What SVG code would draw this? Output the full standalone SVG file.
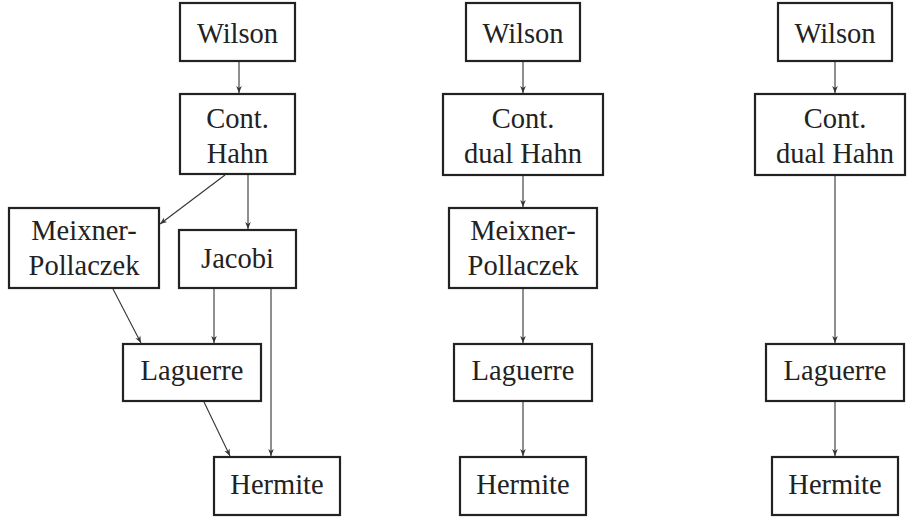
<svg xmlns="http://www.w3.org/2000/svg" width="907" height="519" viewBox="0 0 907 519">
<defs>
<style>
.box{fill:#fff;stroke:#222;stroke-width:2.2}
.e{stroke:#333;stroke-width:1.1;fill:none;marker-end:url(#ah)}
</style>
<marker id="ah" viewBox="0 0 10 10" refX="10" refY="5" markerWidth="7" markerHeight="7" markerUnits="userSpaceOnUse" orient="auto">
<path d="M0,1 L10,5 L0,9 L3,5 Z" fill="#333"/>
</marker>
</defs>
<rect width="907" height="519" fill="#fff"/>
<g id="connectors">
<line class="e" x1="239" y1="62" x2="239" y2="93"/>
<line class="e" x1="225" y1="175" x2="160" y2="224"/>
<line class="e" x1="248" y1="175" x2="248" y2="229"/>
<line class="e" x1="113" y1="289" x2="141" y2="343"/>
<line class="e" x1="214" y1="289" x2="214" y2="343"/>
<line class="e" x1="271" y1="289" x2="271" y2="456"/>
<line class="e" x1="204" y1="402" x2="230" y2="456"/>
<line class="e" x1="523" y1="62" x2="523" y2="93"/>
<line class="e" x1="523" y1="176" x2="523" y2="207"/>
<line class="e" x1="523" y1="289" x2="523" y2="343"/>
<line class="e" x1="523" y1="402" x2="523" y2="456"/>
<line class="e" x1="835" y1="62" x2="835" y2="93"/>
<line class="e" x1="835" y1="176" x2="835" y2="343"/>
<line class="e" x1="835" y1="402" x2="835" y2="456"/>
</g>
<g font-family="Liberation Serif, DejaVu Serif, serif" font-size="28.5" fill="#222" text-anchor="middle">
<g id="n1"><rect class="box" x="180" y="3" width="115" height="58"/><text x="237.5" y="43">Wilson</text></g>
<g id="n2"><rect class="box" x="180" y="94" width="115" height="80"/><text x="237.5" y="128">Cont.</text><text x="237.5" y="163">Hahn</text></g>
<g id="n3"><rect class="box" x="9" y="208" width="150" height="80"/><text x="84" y="240">Meixner-</text><text x="84" y="275">Pollaczek</text></g>
<g id="n4"><rect class="box" x="179" y="230" width="117" height="58"/><text x="237.5" y="268">Jacobi</text></g>
<g id="n5"><rect class="box" x="123" y="344" width="138" height="57"/><text x="192" y="380">Laguerre</text></g>
<g id="n6"><rect class="box" x="214" y="457" width="126" height="58"/><text x="277" y="494">Hermite</text></g>
<g id="m1"><rect class="box" x="466" y="3" width="114" height="58"/><text x="523" y="43">Wilson</text></g>
<g id="m2"><rect class="box" x="443" y="94" width="160" height="81"/><text x="523" y="128">Cont.</text><text x="523" y="163">dual Hahn</text></g>
<g id="m3"><rect class="box" x="449" y="208" width="148" height="80"/><text x="523" y="240">Meixner-</text><text x="523" y="275">Pollaczek</text></g>
<g id="m4"><rect class="box" x="454" y="344" width="138" height="57"/><text x="523" y="380">Laguerre</text></g>
<g id="m5"><rect class="box" x="460" y="457" width="126" height="58"/><text x="523" y="494">Hermite</text></g>
<g id="r1"><rect class="box" x="778" y="3" width="114" height="58"/><text x="835" y="43">Wilson</text></g>
<g id="r2"><rect class="box" x="755" y="94" width="150" height="81"/><text x="835" y="128">Cont.</text><text x="835" y="163">dual Hahn</text></g>
<g id="r3"><rect class="box" x="766" y="344" width="138" height="57"/><text x="835" y="380">Laguerre</text></g>
<g id="r4"><rect class="box" x="772" y="457" width="126" height="58"/><text x="835" y="494">Hermite</text></g>
</g>
</svg>
